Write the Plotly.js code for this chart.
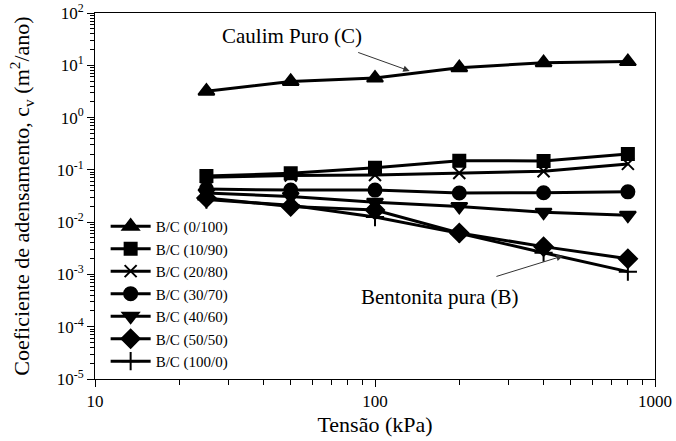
<!DOCTYPE html>
<html>
<head>
<meta charset="utf-8">
<script src="https://cdn.plot.ly/plotly-3.0.1.min.js"></script>
<style>html,body{margin:0;padding:0;background:#fff;}#chart{width:676px;height:441px;}</style>
</head>
<body>
<div id="chart"></div>
<script>
var tensao = [25, 50, 100, 200, 400, 800];
var bc_0_100  = [3.2, 4.9, 5.7, 9.0, 11.2, 11.8];
var bc_10_90  = [0.076, 0.086, 0.11, 0.15, 0.148, 0.20];
var bc_20_80  = [0.072, 0.078, 0.080, 0.087, 0.094, 0.13];
var bc_30_70  = [0.043, 0.041, 0.041, 0.036, 0.0366, 0.038];
var bc_40_60  = [0.036, 0.031, 0.024, 0.020, 0.0155, 0.0136];
var bc_50_50  = [0.029, 0.020, 0.0171, 0.0062, 0.0034, 0.0020];
var bc_100_0  = [0.027, 0.021, 0.0125, 0.0061, 0.0026, 0.00113];

var names = ["B/C (0/100)", "B/C (10/90)", "B/C (20/80)", "B/C (30/70)", "B/C (40/60)", "B/C (50/50)", "B/C (100/0)"];
var series = [bc_0_100, bc_10_90, bc_20_80, bc_30_70, bc_40_60, bc_50_50, bc_100_0];
var symbols = ["triangle-up", "square", "x-thin-open", "circle", "triangle-down", "diamond", "cross-thin-open"];
var sizes = [14, 12, 12, 13, 14, 14, 13];

var yTickVals = [1e-5, 1e-4, 1e-3, 1e-2, 1e-1, 1, 10, 100];
var yTickText = ["10<sup>-5</sup>", "10<sup>-4</sup>", "10<sup>-3</sup>", "10<sup>-2</sup>", "10<sup>-1</sup>", "10<sup>0</sup>", "10<sup>1</sup>", "10<sup>2</sup>"];
var xTickVals = [10, 100, 1000];
var xTickText = ["10", "100", "1000"];

function minorTicks(decades) {
  var out = [];
  decades.forEach(function (d) { for (var k = 2; k <= 9; k++) out.push(k * d); });
  return out;
}
var xMinor = minorTicks([10, 100]);
var yMinor = minorTicks([1e-5, 1e-4, 1e-3, 1e-2, 1e-1, 1, 10]);

var font = "Liberation Serif, Times New Roman, serif";

var traces = series.map(function (s, i) {
  return {
    x: tensao, y: s, name: names[i], type: "scatter", mode: "lines+markers",
    line: {color: "#000", width: 3},
    marker: {symbol: symbols[i], size: sizes[i], color: "#000", line: {color: "#000", width: 2}}
  };
});

var L = Math.log10;
var layout = {
  width: 676, height: 441,
  margin: {l: 95, r: 21, t: 13, b: 62},
  paper_bgcolor: "#fff", plot_bgcolor: "#fff",
  font: {family: font, color: "#000", size: 16},
  showlegend: true,
  legend: {x: 0.019, y: 0.462, xanchor: "left", yanchor: "top", bgcolor: "rgba(0,0,0,0)",
           itemwidth: 40, font: {family: font, size: 15, color: "#000"}, tracegroupgap: 0},
  xaxis: {
    type: "log", range: [1, 3], tickvals: xTickVals, ticktext: xTickText,
    ticks: "outside", ticklen: 7, tickwidth: 1, tickcolor: "#000",
    minor: {tickvals: xMinor, ticks: "outside", ticklen: 5, tickwidth: 1, tickcolor: "#000", showgrid: false},
    showline: true, linecolor: "#000", linewidth: 1, mirror: true,
    showgrid: false, zeroline: false,
    tickfont: {family: font, size: 17, color: "#000"},
    title: {text: "Tensão (kPa)", font: {family: font, size: 22, color: "#000"}, standoff: 6}
  },
  yaxis: {
    type: "log", range: [-5, 2], tickvals: yTickVals, ticktext: yTickText,
    ticks: "outside", ticklen: 7, tickwidth: 1, tickcolor: "#000",
    minor: {tickvals: yMinor, ticks: "outside", ticklen: 4, tickwidth: 1, tickcolor: "#000", showgrid: false},
    showline: true, linecolor: "#000", linewidth: 1, mirror: true,
    showgrid: false, zeroline: false,
    tickfont: {family: font, size: 17, color: "#000"},
    title: {text: "Coeficiente de adensamento, c<sub>v</sub> (m<sup>2</sup>/ano)", font: {family: font, size: 22, color: "#000"}, standoff: 20}
  },
  annotations: [
    {x: L(50.5), y: L(36.3), xref: "x", yref: "y", text: "Caulim Puro (C)", showarrow: false,
     font: {family: font, size: 21, color: "#000"}},
    {x: L(133), y: L(7.8), xref: "x", yref: "y", text: "", showarrow: true, ax: -53, ay: -19,
     arrowhead: 2, arrowsize: 1.3, arrowwidth: 1, arrowcolor: "#333"},
    {x: L(170.6), y: L(0.00037), xref: "x", yref: "y", text: "Bentonita pura (B)", showarrow: false,
     font: {family: font, size: 21, color: "#000"}},
    {x: L(469), y: L(0.00226), xref: "x", yref: "y", text: "", showarrow: true, ax: -68, ay: 21,
     arrowhead: 2, arrowsize: 1.3, arrowwidth: 1, arrowcolor: "#333"}
  ]
};

Plotly.newPlot("chart", traces, layout, {displayModeBar: false, staticPlot: true});
</script>
</body>
</html>
